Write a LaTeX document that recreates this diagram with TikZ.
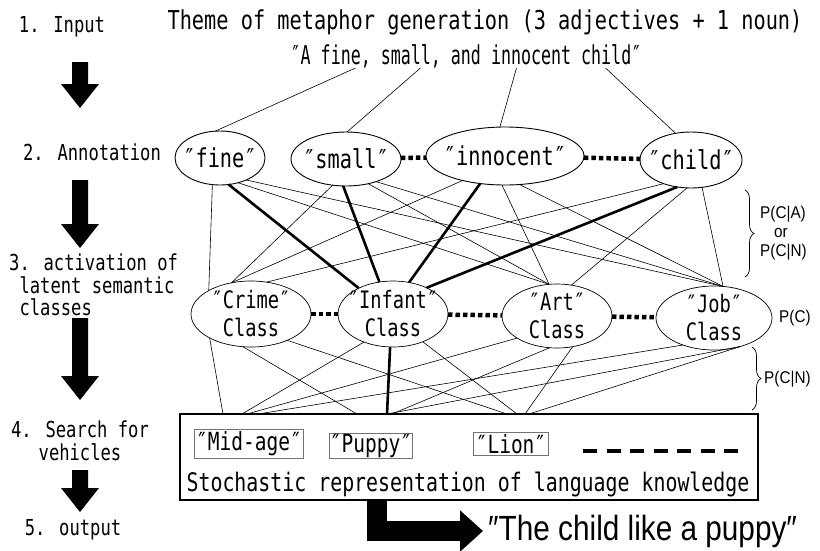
\documentclass[tikz,border=0pt]{standalone}
\usepackage{fontspec}
\usetikzlibrary{shapes.geometric,decorations.pathreplacing,arrows.meta}
\newfontfamily\goth{DejaVu Sans Mono}[FakeStretch=0.78]
\newfontfamily\gothnarrow{DejaVu Sans Mono}[FakeStretch=0.64]
\newfontfamily\outfont{Liberation Sans}[FakeStretch=0.85]
\newfontfamily\probfont{Liberation Sans}[FakeStretch=0.9]
\begin{document}
\begin{tikzpicture}[x=1pt,y=-1pt,
  stage/.style={font=\goth\fontsize{22}{23}\selectfont, inner sep=0pt},
  head/.style={font=\goth\fontsize{26}{28}\selectfont, inner sep=0pt},
  word/.style={ellipse, draw, line width=0.9pt, inner sep=0pt, outer sep=0pt},
  wordtext/.style={font=\goth\fontsize{26}{28}\selectfont, inner sep=0pt},
  cls/.style={ellipse, draw, line width=0.7pt, inner sep=0pt, outer sep=0pt},
  clstext/.style={align=center, font=\goth\fontsize{24}{28}\selectfont, inner sep=0pt},
  link/.style={line width=0.6pt},
  strong/.style={line width=2.6pt},
  dotrow/.style={line width=4.5pt, dash pattern=on 4.5pt off 3pt},
  vehicle/.style={draw=black!55, line width=0.9pt, inner sep=2pt, font=\goth\fontsize{25}{27}\selectfont},
  prob/.style={font=\probfont\fontsize{17}{18}\selectfont, inner sep=0pt},
  pbrace/.style={decorate, decoration={brace, amplitude=9pt}, line width=0.7pt},
  pics/stagearrow/.style={code={\fill (-8,0) -- (8,0) -- (8,{#1-24}) -- (19,{#1-24}) -- (0,#1) -- (-19,{#1-24}) -- (-8,{#1-24}) -- cycle;}},
]
\useasboundingbox (0,0) rectangle (820,550);

% stages on the left
\node[stage] (s1) at (62,27) {1. Input};
\pic at (80,62) {stagearrow=46};
\node[stage] (s2) at (92,152) {2. Annotation};
\pic at (80,180) {stagearrow=68};
\node[stage, align=left, anchor=north west, font=\goth\fontsize{22}{22.5}\selectfont] (s3) at (9,254) {3. activation of\\\ latent semantic\\\ classes};
\pic at (80,318) {stagearrow=82};
\node[stage, align=center, font=\goth\fontsize{22}{23}\selectfont] (s4) at (80,441) {4. Search for\\vehicles};
\pic at (80,470) {stagearrow=42};
\node[stage] (s5) at (73,530) {5. output};

% input theme
\node[head] (theme) at (485,22) {Theme of metaphor generation (3 adjectives + 1 noun)};
\node[head, font=\gothnarrow\fontsize{26}{28}\selectfont] (phrase) at (466,56) {″A fine, small, and innocent child″};
\coordinate (wfine) at ([xshift=65pt]phrase.south west);
\coordinate (wsmall) at ([xshift=130pt]phrase.south west);
\coordinate (winnocent) at ([xshift=226pt]phrase.south west);
\coordinate (wchild) at ([xshift=315pt]phrase.south west);

% annotated words
\node[word, minimum width=90pt, minimum height=54pt] (fine) at (220,158) {};
\node[word, minimum width=110pt, minimum height=54pt] (small) at (346,159) {};
\node[word, minimum width=158pt, minimum height=58pt] (innocent) at (505,156) {};
\node[word, minimum width=102pt, minimum height=56pt] (child) at (691,160) {};
\node[wordtext] (fine-t) at (fine) {″fine″};
\node[wordtext] (small-t) at (small) {″small″};
\node[wordtext] (innocent-t) at (innocent) {″innocent″};
\node[wordtext] (child-t) at (child) {″child″};

\draw[link] (wfine) -- (fine.100);
\draw[link] (wsmall) -- (small.88);
\draw[link] (winnocent) -- (innocent.100);
\draw[link] (wchild) -- (child.120);
\draw[dotrow] (small) -- (innocent);
\draw[dotrow] (innocent) -- (child);

% latent semantic classes
\node[cls, minimum width=120pt, minimum height=66pt] (crime) at (251,314) {};
\node[cls, minimum width=110pt, minimum height=66pt] (infant) at (393,314) {};
\node[cls, minimum width=110pt, minimum height=64pt] (art) at (557,316) {};
\node[cls, minimum width=116pt, minimum height=64pt] (job) at (714,318) {};
\node[clstext] (crime-t) at (crime) {″Crime″\\Class};
\node[clstext] (infant-t) at (infant) {″Infant″\\Class};
\node[clstext] (art-t) at (art) {″Art″\\Class};
\node[clstext] (job-t) at (job) {″Job″\\Class};
\draw[dotrow] (crime) -- (infant);
\draw[dotrow] (infant) -- (art);
\draw[dotrow] (art) -- (job);

% word -> class links
\draw[link] (fine.254) -- (crime.151);
\draw[strong] (fine.288) -- (infant.143);
\draw[link] (fine.306) -- (art.104);
\draw[link] (fine.320) -- (job.74);
\draw[link] (small.243) -- (crime.122);
\draw[strong] (small.264) -- (infant.113);
\draw[link] (small.312) -- (art.104);
\draw[link] (small.323) -- (job.74);
\draw[link] (innocent.210) -- (crime.122);
\draw[strong] (innocent.228) -- (infant.63);
\draw[link] (innocent.264) -- (art.104);
\draw[link] (innocent.297) -- (job.74);
\draw[link] (child.221) -- (crime.64);
\draw[strong] (child.243) -- (infant.38);
\draw[link] (child.262) -- (art.65);
\draw[link] (child.292) -- (job.74);

% language knowledge
\node[draw, line width=1.6pt, minimum width=578pt, minimum height=86pt, anchor=north west, inner sep=0pt, outer sep=0pt] (kb) at (180,414) {};
\node[vehicle] (midage) at (249,444) {″Mid-age″};
\node[vehicle, inner sep=0.5pt] (puppy) at (371,446) {″Puppy″};
\node[vehicle] (lion) at (511,444) {″Lion″};
\draw[line width=4pt, dash pattern=on 14pt off 9.5pt] (583,451) -- (740,451);
\node[head, font=\goth\fontsize{25.5}{28}\selectfont] (stoch) at (468,484) {Stochastic representation of language knowledge};

\coordinate (ma) at ([xshift=43pt]kb.north west);
\coordinate (mb) at ([xshift=62pt]kb.north west);
\coordinate (mc) at ([xshift=67pt]kb.north west);
\coordinate (md) at ([xshift=78pt]kb.north west);
\coordinate (pa) at ([xshift=177pt]kb.north west);
\coordinate (pb) at ([xshift=207pt]kb.north west);
\coordinate (pc) at ([xshift=212pt]kb.north west);
\coordinate (la) at ([xshift=327pt]kb.north west);
\coordinate (lb) at ([xshift=337pt]kb.north west);
\coordinate (lc) at ([xshift=345pt]kb.north west);
\coordinate (ld) at ([xshift=349pt]kb.north west);

% class -> vehicle links
\draw[link] (crime.210) -- (ma);
\draw[link] (crime.256) -- (pa);
\draw[link] (crime.324) -- (la);
\draw[link] (infant.224) -- (mb);
\draw[strong] (infant.265) -- (pb);
\draw[link] (infant.317) -- (lb);
\draw[link] (art.209) -- (mc);
\draw[link] (art.257) -- (pc);
\draw[link] (art.297) -- (lc);
\draw[link] (job.221) -- (md);
\draw[link] (job.313) -- (pb);
\draw[link] (job.313) -- (ld);

% probabilities
\draw[pbrace] (745,190) -- (745,277);
\node[prob, anchor=west] (pca) at (760,214) {P(C|A)};
\node[prob] (por) at (781,233) {or};
\node[prob, anchor=west] (pcn) at (760,252) {P(C|N)};
\node[prob, anchor=west] (pcl) at (779,318) {P(C)};
\draw[pbrace] (752,347) -- (752,410);
\node[prob, anchor=west] (pcn2) at (764,379) {P(C|N)};

% output
\node[anchor=west, font=\outfont\fontsize{35}{37}\selectfont, inner sep=0pt] (result) at (488,531) {″The child like a puppy″};
\coordinate (outstart) at (377,501);
\draw[line width=20pt, -{Triangle[width=40pt,length=23pt]}] (outstart) |- ([xshift=-5pt]result.west);
\end{tikzpicture}
\end{document}
